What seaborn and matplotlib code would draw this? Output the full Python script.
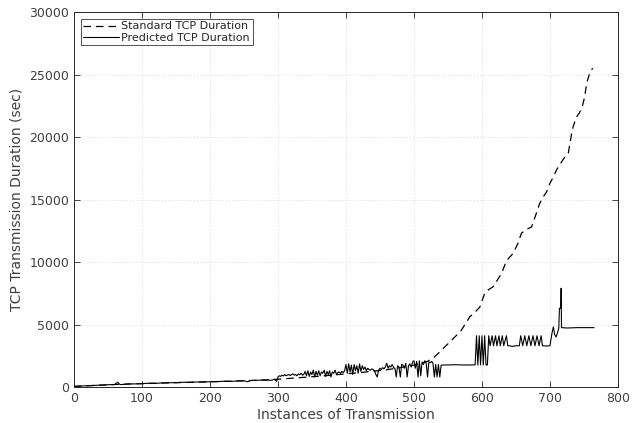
import matplotlib
matplotlib.use("Agg")
import matplotlib.pyplot as plt
import seaborn as sns
import pandas as pd

# Standard TCP duration (dashed)
std_x = [0, 20, 40, 60, 80, 100, 120, 140, 160, 180, 200, 220, 240, 260, 280, 300,
         320, 340, 360, 380, 400, 420, 440, 460, 480, 500, 510, 520, 530, 538, 545,
         553, 560, 568, 575, 582, 590, 597, 604, 610, 616, 622, 629, 636, 641, 646,
         653, 658, 665, 673, 680, 685, 690, 695, 700, 705, 710, 717, 722, 727, 732,
         734, 739, 743, 747, 751, 754, 759, 763]
std_y = [50, 100, 150, 200, 240, 270, 300, 330, 360, 390, 420, 450, 480, 520, 560, 620,
         700, 780, 860, 950, 1050, 1150, 1260, 1380, 1550, 1750, 1900, 2050, 2400, 2800, 3200,
         3600, 4000, 4400, 5000, 5600, 6000, 6400, 7500, 7800, 8000, 8500, 9100, 10100, 10400, 10700,
         11500, 12300, 12600, 12800, 13900, 14700, 15200, 15600, 16300, 16800, 17400, 18000, 18400, 18700, 20300,
         20800, 21600, 21900, 22300, 23200, 24300, 25200, 25500]

# Predicted TCP duration (solid)
pred_x_early = [0, 10, 20, 30, 40, 50, 60, 64, 68, 80, 90, 100, 110, 120, 130, 140, 150,
                160, 170, 180, 190, 200, 210, 220, 230, 240, 250, 255, 260, 270, 280, 290,
                295, 298]
pred_y_early = [50, 80, 100, 130, 150, 180, 200, 380, 190, 240, 250, 270, 300, 290, 330, 340, 350,
                380, 370, 400, 400, 420, 430, 460, 450, 480, 500, 420, 520, 540, 560, 540,
                620, 450]
pred_x_mid = list(range(300, 542, 2))
pred_y_mid = [800, 900, 850, 950, 880, 1000, 900, 950, 1000, 920,
              980, 1050, 950, 1000, 900, 1050, 980, 1100, 950, 1000,
              1250, 900, 1300, 850, 1200, 1000, 1350, 800, 1250, 950,
              1300, 900, 1200, 1100, 1350, 850, 1250, 1000, 1300, 800,
              1200, 1100, 1350, 1000, 1150, 1200, 1100, 1250, 1150, 1300,
              1800, 1100, 1850, 1200, 1750, 1000, 1800, 1300, 1700, 1100,
              1850, 1250, 1700, 1400, 1600, 1300, 1500, 1400, 1350, 1450,
              1400, 1300, 1000, 800, 1350, 1500, 1400, 1550, 1450, 1600,
              1900, 1500, 1700, 1600, 1800, 1550, 1500, 800, 1700, 1600,
              800, 1800, 1750, 1500, 1900, 800, 1700, 1850, 1600, 2000,
              2100, 1500, 2050, 800, 2100, 900, 2000, 1800, 2100, 1900,
              800, 2000, 1950, 2050, 1900, 800, 1800, 800, 1800, 800,
              1750]
pred_x_late = [545, 560, 575, 590, 592, 594, 596, 598, 600, 602, 604, 606, 608, 610, 612,
               615, 617, 620, 622, 625, 627, 630, 632, 636, 638, 640, 645, 650, 655, 657,
               660, 663, 666, 669, 672, 675, 678, 681, 684, 687, 689, 695, 700, 703, 705,
               707, 709, 711, 713, 714, 716, 716.5, 717, 725, 740, 765]
pred_y_late = [1760, 1780, 1760, 1770, 4100, 1760, 4100, 1760, 4100, 1760, 4100, 1760, 1760, 4100, 3300,
               4100, 3300, 4100, 3300, 4100, 3300, 4100, 3300, 4100, 3300, 3300, 3250, 3300, 3300, 4100,
               3300, 4100, 3300, 4100, 3300, 4100, 3300, 4100, 3300, 4100, 3300, 3280, 3300, 4300, 4800,
               4200, 4000, 4300, 4700, 6300, 6300, 7900, 4750, 4720, 4750, 4750]

pred_x = pred_x_early + pred_x_mid + pred_x_late
pred_y = pred_y_early + pred_y_mid + pred_y_late

sns.set_theme(style="white")
plt.rcParams['font.family'] = ['DejaVu Sans']

fig = plt.figure(figsize=(6.41, 4.23), dpi=100)
ax = fig.add_axes([0.1154, 0.0851, 0.8486, 0.8865])

df_std = pd.DataFrame({"x": std_x, "y": std_y})
df_pred = pd.DataFrame({"x": pred_x, "y": pred_y})

sns.lineplot(data=df_std, x="x", y="y", ax=ax, estimator=None, sort=False,
             color="black", linewidth=0.9, linestyle=(0, (6, 4)),
             label="Standard TCP Duration")
sns.lineplot(data=df_pred, x="x", y="y", ax=ax, estimator=None, sort=False,
             color="black", linewidth=0.8, label="Predicted TCP Duration")

ax.set_xlim(0, 800)
ax.set_ylim(0, 30000)
ax.set_xticks(range(0, 801, 100))
ax.set_yticks(range(0, 30001, 5000))
ax.grid(True, color="#dcdcdc", linestyle=(0, (1, 2)), linewidth=0.7)
ax.tick_params(direction="in", length=4, width=0.6, colors="#262626",
               labelsize=9, top=True, right=True, bottom=True, left=True,
               labelcolor="#404040")
for s in ax.spines.values():
    s.set_color("#262626")
    s.set_linewidth(0.7)
ax.set_xlabel("Instances of Transmission", fontsize=10, color="#404040", labelpad=2)
ax.set_ylabel("TCP Transmission Duration (sec)", fontsize=10, color="#404040", labelpad=4)

leg = ax.legend(loc="upper left", fontsize=8, frameon=True, fancybox=False,
                edgecolor="#262626", borderpad=0.25, handlelength=3.2,
                handletextpad=0.2, labelspacing=0.1, borderaxespad=0.6)
leg.get_frame().set_linewidth(0.7)
for t in leg.get_texts():
    t.set_color("#262626")

fig.savefig("out.png", dpi=100)
